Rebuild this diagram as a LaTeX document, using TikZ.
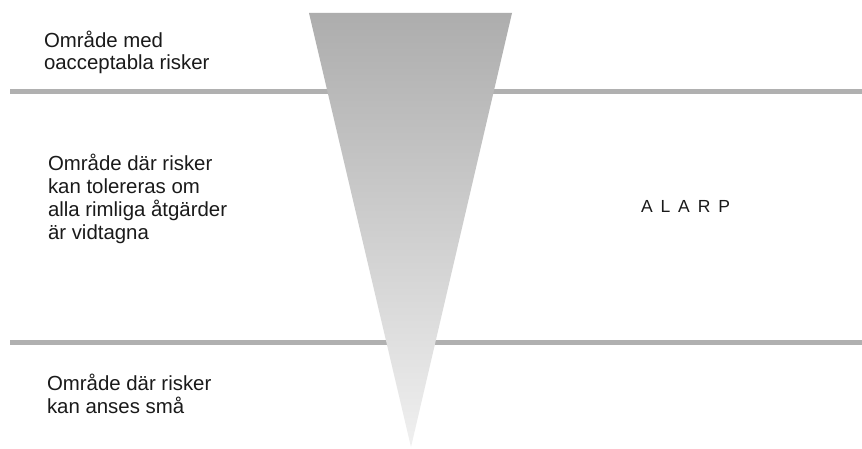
\documentclass[tikz,border=0pt]{standalone}
\usepackage{fontspec}
\setmainfont{Liberation Sans}
\definecolor{cb0b0b0}{RGB}{176,176,176}
\definecolor{cadadad}{RGB}{173,173,173}
\definecolor{cf0f0f0}{RGB}{240,240,240}
\definecolor{c1a1a1a}{RGB}{26,26,26}
\def \globalscale {1.000000}
\begin{document}
\begin{tikzpicture}[y=1pt, x=1pt, yscale=\globalscale,xscale=\globalscale, every node/.append style={scale=\globalscale}, inner sep=0pt, outer sep=0pt]
  \path[use as bounding box,fill=white] (0.0, 0.0) rectangle (862.0, 448.0);

  % zone limits
  \path[draw=cb0b0b0,line cap=butt,line width=5pt] (10.0, 356.5) -- (862.0, 356.5);
  \path[draw=cb0b0b0,line cap=butt,line width=5pt] (10.0, 105.5) -- (862.0, 105.5);

  % risk wedge
  \path[top color=cadadad,bottom color=cf0f0f0] (309.0, 435.0) -- (512.0, 435.0) -- (411.0, 1.0) -- cycle;

  % base anchor sits on the last line
  \node[text=c1a1a1a,anchor=base west,align=left,font=\fontsize{20.4}{22.0}\selectfont] (text1) at (44.0, 378.7){Område med\\oacceptabla risker};

  \node[text=c1a1a1a,anchor=base west,align=left,font=\fontsize{20.4}{23.1}\selectfont] (text2) at (48.0, 208.7){Område där risker\\kan tolereras om\\alla rimliga åtgärder\\är vidtagna};

  \node[text=c1a1a1a,anchor=base west,align=left,font=\fontsize{20.4}{23.3}\selectfont] (text3) at (47.0, 34.7){Område där risker\\kan anses små};

  \node[text=c1a1a1a,anchor=base west,font=\fontsize{17.5}{18}\selectfont] (text4) at (641.0, 235.5){\spaceskip=7.9pt\relax A L A R P};

\end{tikzpicture}
\end{document}
